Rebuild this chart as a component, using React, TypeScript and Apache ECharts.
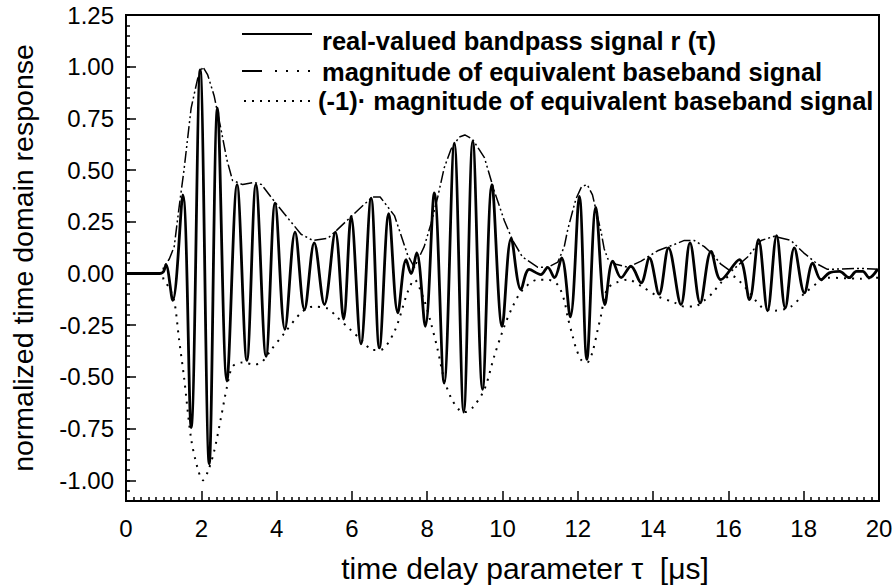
import React, { useEffect, useRef } from "react";
import * as echarts from "echarts";

// real-valued bandpass signal r(tau): time [us] and normalized value
const signalTau = [
  0, 0.9, 1.0, 1.06, 1.24, 1.51, 1.73, 1.97, 2.21, 2.43, 2.68, 2.95, 3.21, 3.45, 3.72, 3.96,
  4.22, 4.49, 4.74, 5.0, 5.27, 5.56, 5.78, 5.98, 6.24, 6.51, 6.73, 6.98, 7.22, 7.44, 7.57, 7.72,
  7.95, 8.19, 8.45, 8.72, 8.97, 9.21, 9.47, 9.72, 9.99, 10.23, 10.49, 10.71, 11.02, 11.2, 11.38,
  11.57, 11.8, 12.04, 12.24, 12.48, 12.72, 12.93, 13.15, 13.41, 13.68, 13.9, 14.16, 14.41, 14.74,
  14.98, 15.25, 15.54, 15.8, 16.29, 16.56, 16.8, 17.04, 17.28, 17.51, 17.75, 18.02, 18.24, 18.46,
  18.68, 18.95, 19.21, 19.4, 19.57, 19.74, 19.96,
];
const signalVal = [
  0, 0, 0.01, 0.043, -0.13, 0.38, -0.745, 0.985, -0.92, 0.8, -0.52, 0.43, -0.42, 0.43, -0.4, 0.34,
  -0.27, 0.2, -0.175, 0.148, -0.15, 0.2, -0.22, 0.276, -0.34, 0.365, -0.36, 0.29, -0.19, 0.067, 0.0, 0.1,
  -0.255, 0.39, -0.53, 0.63, -0.67, 0.64, -0.56, 0.43, -0.255, 0.17, -0.078, 0.02, -0.005, 0.03, -0.02,
  0.075, -0.21, 0.373, -0.415, 0.32, -0.15, 0.06, -0.02, 0.035, -0.045, 0.075, -0.1, 0.124, -0.15,
  0.148, -0.142, 0.107, -0.03, 0.067, -0.126, 0.164, -0.18, 0.183, -0.166, 0.124, -0.094, 0.05, -0.03,
  0.003, 0.01, -0.02, 0.01, 0.01, -0.02, 0.02,
];

// magnitude of the equivalent baseband signal
const envTau = [
  0, 0.95, 1.0, 1.15, 1.28, 1.41, 1.54, 1.73, 1.9, 2.04, 2.17, 2.34, 2.52, 2.68, 2.83, 3.1, 3.4,
  3.6, 3.85, 4.2, 4.65, 4.96, 5.36, 5.6, 5.95, 6.3, 6.55, 6.75, 7.13, 7.48, 7.66, 7.92, 8.1, 8.28,
  8.45, 8.63, 8.85, 9.0, 9.2, 9.52, 9.78, 10.05, 10.27, 10.53, 10.94, 11.2, 11.47, 11.64, 11.73,
  11.86, 11.95, 12.1, 12.25, 12.39, 12.53, 12.62, 12.7, 12.8, 13.01, 13.33, 13.68, 14.12, 14.56,
  14.83, 15.09, 15.36, 15.58, 15.8, 16.07, 16.51, 16.87, 17.22, 17.66, 18.0, 18.37, 18.63, 19.5, 20,
];
const envMag = [
  0, 0, 0.03, 0.07, 0.13, 0.32, 0.5, 0.8, 0.94, 1.0, 0.96, 0.86, 0.7, 0.55, 0.45, 0.43, 0.44,
  0.43, 0.37, 0.29, 0.19, 0.16, 0.17, 0.21, 0.27, 0.33, 0.37, 0.37, 0.28, 0.09, 0.03, 0.13, 0.24, 0.37,
  0.51, 0.6, 0.66, 0.67, 0.65, 0.56, 0.4, 0.255, 0.16, 0.08, 0.03, 0.03, 0.055, 0.13, 0.21,
  0.3, 0.36, 0.42, 0.43, 0.38, 0.27, 0.2, 0.12, 0.07, 0.045, 0.03, 0.06, 0.11, 0.14,
  0.16, 0.16, 0.13, 0.094, 0.045, 0.01, 0.08, 0.16, 0.18, 0.16, 0.1, 0.045, 0.02, 0.025, 0.02,
];

const yMajorTicks = [-1.0, -0.75, -0.5, -0.25, 0, 0.25, 0.5, 0.75, 1.0, 1.25];
const legendLabels = [
  "real-valued bandpass signal r (\u03c4)",
  "magnitude of equivalent baseband signal",
  "(-1)\u00b7 magnitude of equivalent baseband signal",
];
const xTitle = "time delay parameter \u03c4  [\u03bcs]";
const yTitle = "normalized time domain response";

const FONT = '"Liberation Sans", Arial, Helvetica, sans-serif';

export default function App() {
  const ref = useRef<HTMLDivElement>(null);
  useEffect(() => {
    if (!ref.current) return;
    const chart = echarts.init(ref.current, undefined, { renderer: "svg" });
    const signal = signalTau.map((t, i) => [t, signalVal[i]]);
    const upper = envTau.map((t, i) => [t, envMag[i]]);
    const lower = envTau.map((t, i) => [t, -1 * envMag[i]]);
    const legendText = (text: string, x: number, y: number) => ({
      type: "text",
      x,
      y,
      style: {
        text,
        fontSize: 25.5,
        fontWeight: "bold",
        fontFamily: FONT,
        fill: "#000",
        verticalAlign: "middle",
      },
    });
    chart.setOption({
      animation: false,
      backgroundColor: "#fff",
      grid: {
        left: 125,
        right: 17,
        top: 15,
        bottom: 86,
        show: true,
        borderColor: "#000",
        borderWidth: 2,
        backgroundColor: "transparent",
      },
      xAxis: {
        type: "value",
        min: 0,
        max: 20,
        interval: 2,
        name: xTitle,
        nameLocation: "middle",
        nameGap: 52,
        nameTextStyle: { fontSize: 30, fontFamily: FONT, color: "#000", padding: [0, 0, 0, 45] },
        axisLine: { show: true, onZero: false, lineStyle: { color: "#000", width: 2 } },
        axisTick: { show: true, inside: true, length: 10, lineStyle: { color: "#000", width: 1.5 } },
        minorTick: { show: true, splitNumber: 10, length: 4, lineStyle: { color: "#000", width: 1.5 } },
        axisLabel: { color: "#000", fontSize: 24, fontFamily: FONT, margin: 15 },
        splitLine: { show: false },
        minorSplitLine: { show: false },
      },
      yAxis: [
        {
          type: "value",
          min: -1.1,
          max: 1.25,
          interval: 0.05,
          position: "left",
          name: yTitle,
          nameLocation: "middle",
          nameGap: 89,
          nameTextStyle: { fontSize: 28.5, fontFamily: FONT, color: "#000" },
          axisLine: { show: true, onZero: false, lineStyle: { color: "#000", width: 2 } },
          axisTick: { show: true, inside: true, length: 4, lineStyle: { color: "#000", width: 1.5 } },
          axisLabel: {
            customValues: yMajorTicks,
            formatter: (v: number) => v.toFixed(2),
            color: "#000",
            fontSize: 24,
            fontFamily: FONT,
            margin: 12,
          },
          splitLine: { show: false },
        },
        {
          type: "value",
          min: -1.1,
          max: 1.25,
          position: "left",
          axisLine: { show: false, onZero: false },
          axisTick: {
            show: true,
            inside: true,
            length: 10,
            customValues: yMajorTicks,
            lineStyle: { color: "#000", width: 1.5 },
          },
          axisLabel: { show: false },
          splitLine: { show: false },
        },
      ],
      series: [
        {
          name: legendLabels[2],
          type: "line",
          data: lower,
          symbol: "none",
          smooth: 0.3,
          z: 2,
          lineStyle: { color: "#000", width: 2, type: [2, 6] },
        },
        {
          name: legendLabels[1],
          type: "line",
          data: upper,
          symbol: "none",
          z: 3,
          lineStyle: { color: "#000", width: 1.5, type: [12, 3, 2, 3, 2, 3] },
        },
        {
          name: legendLabels[0],
          type: "line",
          data: signal,
          symbol: "none",
          smooth: 0.35,
          z: 5,
          lineStyle: { color: "#000", width: 2.8 },
        },
      ],
      graphic: [
        { type: "line", shape: { x1: 242, y1: 34, x2: 312, y2: 34 }, style: { stroke: "#000", lineWidth: 2 } },
        legendText(legendLabels[0], 322, 41),
        { type: "line", shape: { x1: 242, y1: 71, x2: 262, y2: 71 }, style: { stroke: "#000", lineWidth: 2 } },
        { type: "line", shape: { x1: 275, y1: 71, x2: 318, y2: 71 }, style: { stroke: "#000", lineWidth: 2, lineDash: [2, 9] } },
        legendText(legendLabels[1], 322, 72),
        { type: "line", shape: { x1: 244, y1: 101, x2: 316, y2: 101 }, style: { stroke: "#000", lineWidth: 2, lineDash: [2, 6] } },
        legendText(legendLabels[2], 318, 101),
      ],
    });
    return () => chart.dispose();
  }, []);
  return (
    <div
      ref={ref}
      style={{ position: "fixed", left: 0, top: 0, width: 896, height: 588, background: "#fff" }}
    />
  );
}
